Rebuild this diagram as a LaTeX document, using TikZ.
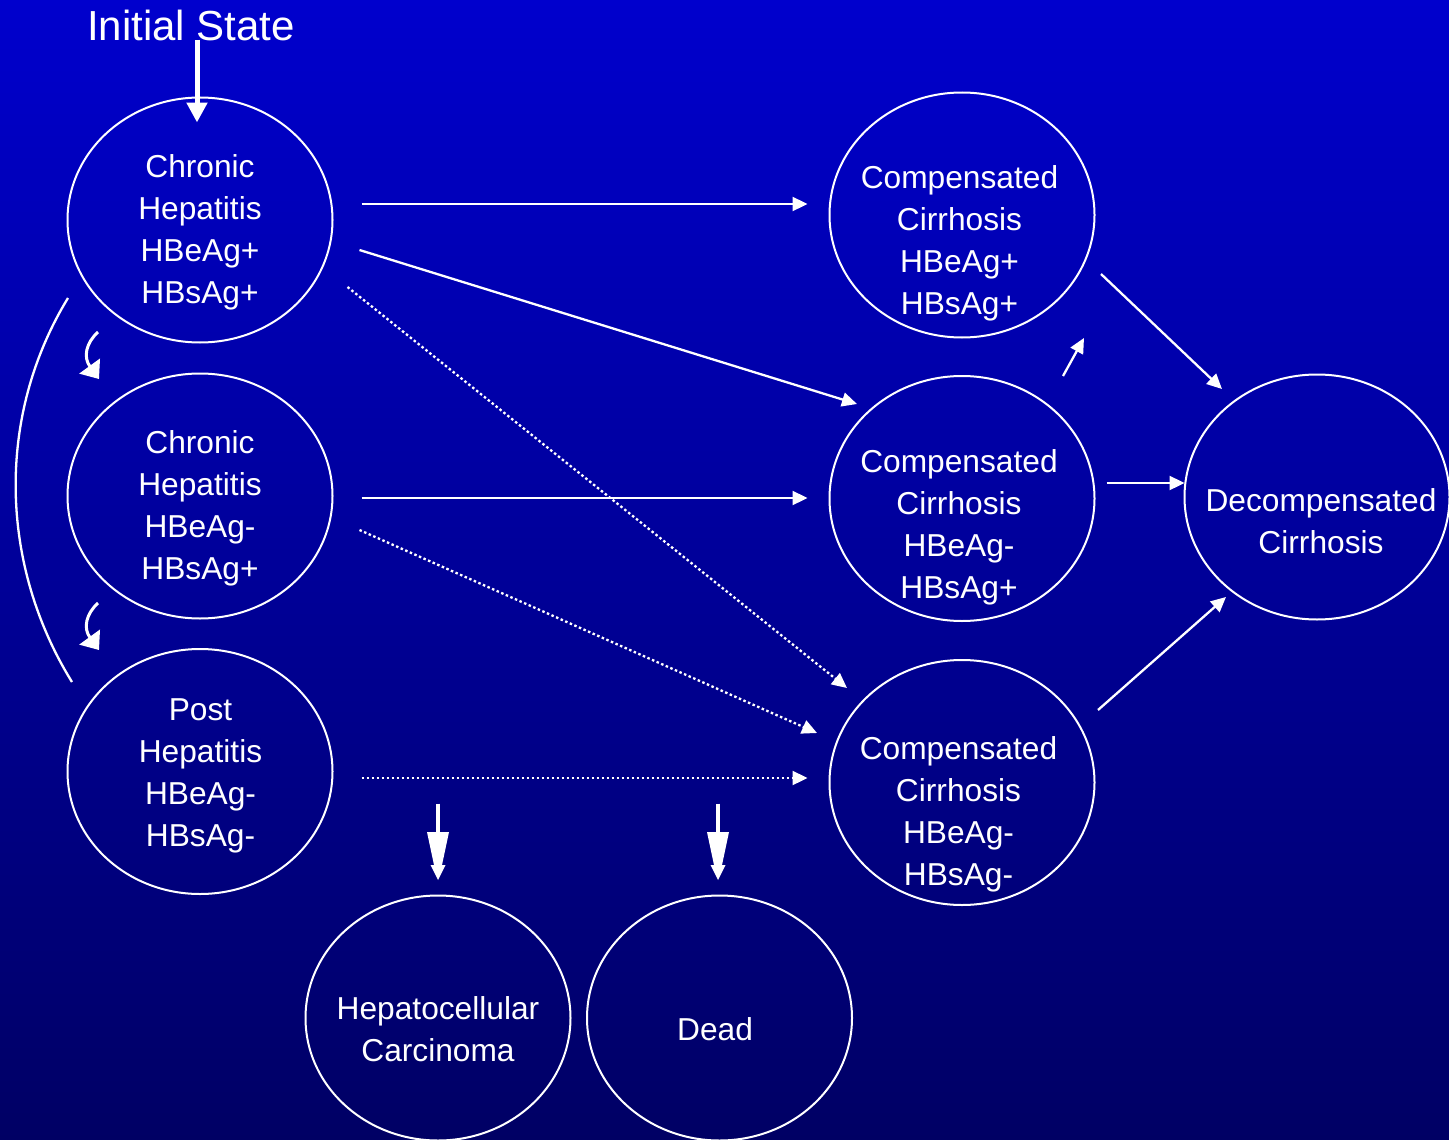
\documentclass[tikz,border=0pt]{standalone}
\usepackage{fontspec}
\setmainfont{Liberation Sans}
\usetikzlibrary{shapes.geometric,arrows.meta,calc}
\definecolor{bgtop}{RGB}{0,0,205}
\definecolor{bgbot}{RGB}{0,0,100}
\begin{document}
\begin{tikzpicture}[x=1pt,y=-1pt,
  ell/.style={draw=white, line width=2pt, ellipse, minimum width=265pt, minimum height=245pt, inner sep=0pt, outer sep=0pt},
  txt/.style={text=white, align=center, font=\fontsize{31.7}{42}\selectfont, inner sep=0pt},
  arr/.style={draw=white, line width=2.3pt, -{Triangle[length=15pt,width=14pt]}},
  dotarr/.style={arr, dash pattern=on 2.5pt off 2.5pt},
  initarr/.style={draw=white, line width=5pt, -{Triangle[length=20pt,width=20pt]}},
  curvarr/.style={draw=white, line width=3pt, -{Triangle[length=16pt,width=25pt]}},
  dnline/.style={draw=white, line width=4.3pt},
  arcline/.style={draw=white, line width=2.3pt}]
\useasboundingbox (0,0) rectangle (1449,1140);
\shade[top color=bgtop, bottom color=bgbot] (0,0) rectangle (1449,1140);

% states
\node[ell] (A) at (200,220) {};
\node[ell] (B) at (200,496) {};
\node[ell] (C) at (200,771.5) {};
\node[ell] (D) at (962,215) {};
\node[ell] (E) at (962,498.5) {};
\node[ell] (F) at (962,782.5) {};
\node[ell] (G) at (1317,497) {};
\node[ell] (H) at (438,1018) {};
\node[ell] (I) at (719.5,1018) {};

\node[txt] (At) at (200,232.2) {Chronic\\Hepatitis\\HBeAg+\\HBsAg+};
\node[txt] (Bt) at (200,507.8) {Chronic\\Hepatitis\\HBeAg-\\HBsAg+};
\node[txt] (Ct) at (200.5,775.5) {Post\\Hepatitis\\HBeAg-\\HBsAg-};
\node[txt] (Dt) at (959.5,243.7) {Compensated\\Cirrhosis\\HBeAg+\\HBsAg+};
\node[txt] (Et) at (959,527.6) {Compensated\\Cirrhosis\\HBeAg-\\HBsAg+};
\node[txt] (Ft) at (958.5,814.7) {Compensated\\Cirrhosis\\HBeAg-\\HBsAg-};
\node[txt] (Gt) at (1321,521.1) {Decompensated\\Cirrhosis};
\node[txt] (Ht) at (438,1029.4) {Hepatocellular\\Carcinoma};
\node[txt] (It) at (715,1029.5) {Dead};

\node[text=white, font=\fontsize{42}{50}\selectfont, anchor=base, inner sep=0pt] (init) at (191,40.7) {Initial State};

% initial arrow
\draw[initarr] ($(init.base)+(6,-1)$) -- ($(A.north)+(-3,25)$);

% transitions
\draw[arr] ($(A.east)+(29,-16)$) -- ($(D.west)+(-22,-11)$);
\draw[arr] ($(A.east)+(27,30)$) -- ($(E.center)+(-105,-94.5)$);
\draw[dotarr] ($(A.east)+(15,67)$) -- ($(F.center)+(-115,-94.5)$);
\draw[arr] ($(B.east)+(29,2)$) -- ($(E.west)+(-22,-0.5)$);
\draw[dotarr] ($(B.east)+(27,34)$) -- ($(F.center)+(-145,-49.5)$);
\draw[dotarr] ($(C.east)+(29,6.5)$) -- ($(F.west)+(-22,-4.5)$);
\draw[arr] ($(D.center)+(139,59)$) -- ($(G.center)+(-95,-108)$);
\draw[arr] ($(E.east)+(12,-15.5)$) -- ($(G.west)+(0,-14)$);
\draw[arr] ($(F.center)+(136,-72.5)$) -- ($(G.center)+(-91,100)$);
\draw[arr] ($(E.center)+(101,-122.5)$) -- ($(D.center)+(122,123)$);

% small curved arrows
\draw[curvarr] ($(A.center)+(-102,112)$) .. controls +(-12,11) and +(-16,-22) .. ($(B.center)+(-101,-117)$);
\draw[curvarr] ($(B.center)+(-102,107)$) .. controls +(-12,11) and +(-16,-22) .. ($(C.center)+(-101,-121.5)$);

% long arc on the left
\draw[arcline] ($(A.center)+(-132,78)$) .. controls +(-72.4,118.6) and +(-72.4,-117.1) .. ($(C.center)+(-128,-89.5)$);

% down arrows
\draw[dnline] ($(H.north)+(0,-92)$) -- ($(H.north)+(0,-60)$);
\fill[white] ($(H.north)+(0,-15.5)$) -- ++(7.5,-15) -- ++(-3.5,0) -- ++(7,-33) -- ++(-22,0) -- ++(7,33) -- ++(-3.5,0) -- cycle;
\draw[dnline] ($(I.north)+(-1.5,-92)$) -- ($(I.north)+(-1.5,-60)$);
\fill[white] ($(I.north)+(-1.5,-15.5)$) -- ++(7.5,-15) -- ++(-3.5,0) -- ++(7,-33) -- ++(-22,0) -- ++(7,33) -- ++(-3.5,0) -- cycle;
\end{tikzpicture}
\end{document}
